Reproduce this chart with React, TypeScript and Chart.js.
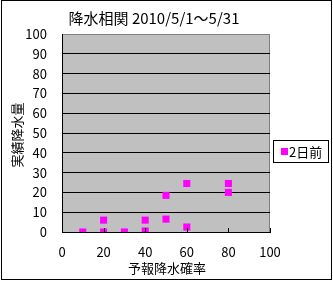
import React, { useEffect, useRef } from "react";
import { Chart, registerables } from "chart.js";

Chart.register(...registerables);

const chartTitle = "降水相関 2010/5/1～5/31";
const xAxisTitle = "予報降水確率";
const yAxisTitle = "実績降水量";
const seriesLabel = "2日前";
const forecastProb = [10, 20, 20, 30, 40, 40, 50, 50, 60, 60, 80, 80];
const actualRain = [0, 0, 6, 0, 0.5, 6, 18.5, 6.5, 24.5, 2.5, 24.5, 20];
const xTicks = [0, 20, 40, 60, 80, 100];
const yTicks = [0, 10, 20, 30, 40, 50, 60, 70, 80, 90, 100];

const FONT = "'Noto Sans CJK JP', sans-serif";

export default function App() {
  const ref = useRef<HTMLCanvasElement | null>(null);
  useEffect(() => {
    document.body.style.margin = "0";
    const canvas = ref.current!;
    const decor = {
      id: "decor",
      beforeDraw(chart: any) {
        const { ctx, chartArea: a } = chart;
        ctx.save();
        ctx.fillStyle = "#fff";
        ctx.fillRect(0, 0, chart.width, chart.height);
        ctx.fillStyle = "#C0C0C0";
        ctx.fillRect(a.left, a.top, a.right - a.left, a.bottom - a.top);
        ctx.strokeStyle = "#808080";
        ctx.lineWidth = 1;
        ctx.beginPath();
        ctx.moveTo(a.left, a.top + 0.5);
        ctx.lineTo(a.right - 0.5, a.top + 0.5);
        ctx.lineTo(a.right - 0.5, a.bottom);
        ctx.stroke();
        ctx.restore();
      },
      afterDatasetsDraw(chart: any) {
        const { ctx, chartArea: a, scales } = chart;
        ctx.save();
        ctx.strokeStyle = "#000";
        ctx.lineWidth = 1;
        xTicks.forEach((v) => {
          const x = Math.round(scales.x.getPixelForValue(v)) + 0.5;
          ctx.beginPath();
          ctx.moveTo(x, a.bottom);
          ctx.lineTo(x, a.bottom - 4);
          ctx.stroke();
        });
        ctx.strokeRect(1.5, 0.5, 330, 279);
        ctx.fillStyle = "#000";
        ctx.textAlign = "center";
        ctx.textBaseline = "middle";
        ctx.font = `15px ${FONT}`;
        ctx.fillText(chartTitle, 154, 18);
        ctx.font = `13px ${FONT}`;
        ctx.fillText(xAxisTitle, 167, 268);
        ctx.save();
        ctx.translate(17, 135);
        ctx.rotate(-Math.PI / 2);
        ctx.fillText(yAxisTitle, 0, 0);
        ctx.restore();
        ctx.fillStyle = "#fff";
        ctx.fillRect(273, 140, 55, 22);
        ctx.strokeRect(273.5, 140.5, 55, 22);
        ctx.fillStyle = "#FF00FF";
        ctx.fillRect(281, 148, 7, 7);
        ctx.fillStyle = "#000";
        ctx.textAlign = "left";
        ctx.fillText(seriesLabel, 289, 152);
        ctx.restore();
      },
    };
    const chart = new Chart(canvas, {
      type: "scatter",
      data: {
        datasets: [
          {
            label: seriesLabel,
            data: forecastProb.map((x, i) => ({ x, y: actualRain[i] })),
            backgroundColor: "#FF00FF",
            borderColor: "#FF00FF",
            pointStyle: "rect",
            pointRadius: 5,
            pointHoverRadius: 5,
            borderWidth: 0,
          },
        ],
      },
      options: {
        animation: false,
        responsive: false,
        devicePixelRatio: 1,
        layout: { padding: { left: 0, top: 34, right: 63, bottom: 0 } },
        plugins: {
          legend: { display: false },
          title: { display: false },
          tooltip: { enabled: false },
        },
        scales: {
          x: {
            type: "linear",
            min: 0,
            max: 100,
            afterBuildTicks: (s: any) => {
              s.ticks = xTicks.map((v) => ({ value: v }));
            },
            afterFit: (s: any) => {
              s.height = 282 - 232;
            },
            grid: { display: false, drawTicks: false },
            border: { display: true, color: "#000", width: 1 },
            ticks: {
              color: "#000",
              font: { family: FONT, size: 13 },
              padding: 12,
              maxRotation: 0,
            },
          },
          y: {
            type: "linear",
            min: 0,
            max: 100,
            afterBuildTicks: (s: any) => {
              s.ticks = yTicks.map((v) => ({ value: v }));
            },
            afterFit: (s: any) => {
              s.width = 62;
            },
            grid: {
              drawTicks: false,
              color: (c: any) => (c.tick && c.tick.value === 100 ? "rgba(0,0,0,0)" : "#000"),
              lineWidth: 1,
            },
            border: { display: true, color: "#000", width: 1 },
            ticks: {
              color: "#000",
              font: { family: FONT, size: 13 },
              padding: 15,
            },
          },
        },
      },
      plugins: [decor],
    } as any);
    return () => chart.destroy();
  }, []);
  return <canvas ref={ref} width={333} height={282} style={{ display: "block" }} />;
}
